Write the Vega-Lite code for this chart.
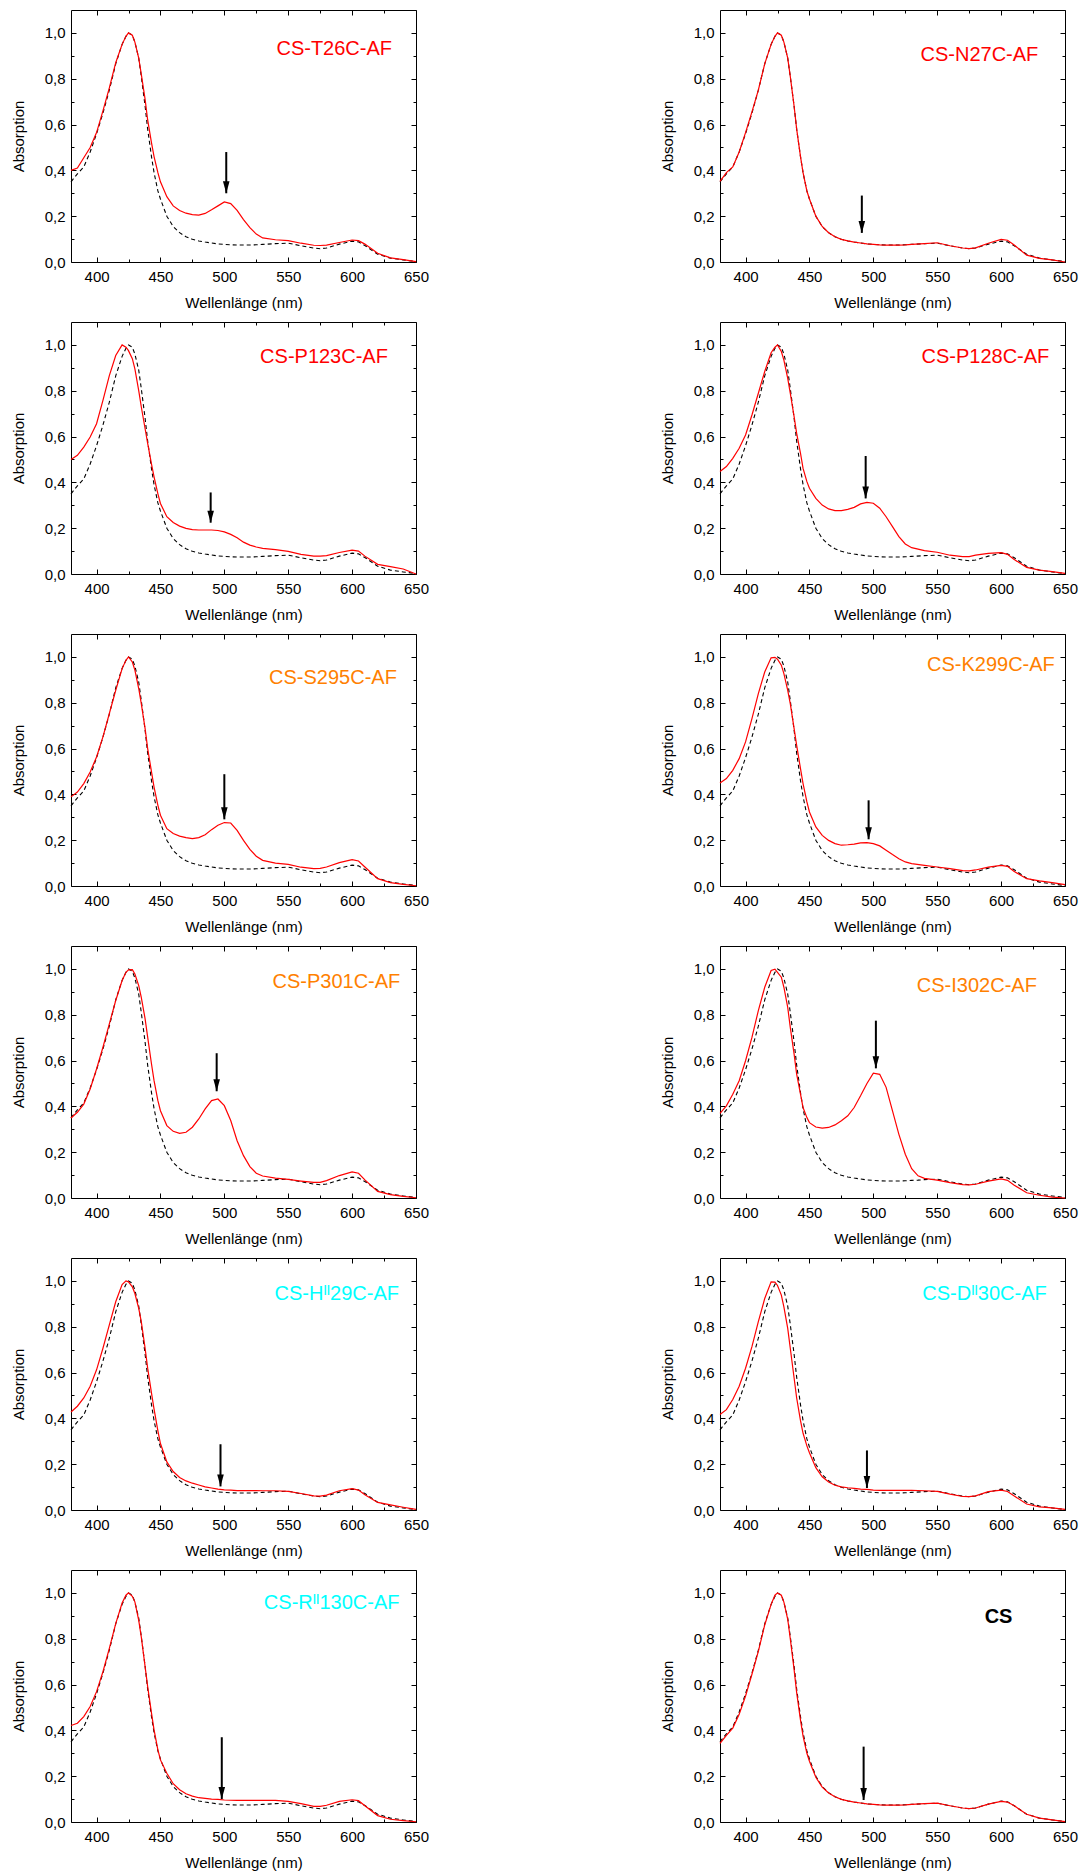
{
"$schema":"https://vega.github.io/schema/vega-lite/v6.json",
"padding":{"left":10,"top":9,"right":0,"bottom":0},
"data":{"values":[
{"p":"T26C","x":380,"r":0.4,"c":0.35},{"p":"T26C","x":385,"r":0.41,"c":0.385},{"p":"T26C","x":390,"r":0.455,"c":0.415},{"p":"T26C","x":395,"r":0.5,"c":0.48},{"p":"T26C","x":400,"r":0.565,"c":0.56},{"p":"T26C","x":405,"r":0.66,"c":0.65},{"p":"T26C","x":410,"r":0.76,"c":0.75},{"p":"T26C","x":415,"r":0.87,"c":0.865},{"p":"T26C","x":420,"r":0.95,"c":0.95},{"p":"T26C","x":423,"r":0.985,"c":0.985},{"p":"T26C","x":425,"r":1,"c":1},{"p":"T26C","x":428,"r":0.99,"c":0.99},{"p":"T26C","x":430,"r":0.96,"c":0.96},{"p":"T26C","x":433,"r":0.89,"c":0.89},{"p":"T26C","x":435,"r":0.82,"c":0.81},{"p":"T26C","x":438,"r":0.71,"c":0.68},{"p":"T26C","x":440,"r":0.62,"c":0.58},{"p":"T26C","x":443,"r":0.52,"c":0.46},{"p":"T26C","x":445,"r":0.46,"c":0.39},{"p":"T26C","x":448,"r":0.39,"c":0.31},{"p":"T26C","x":450,"r":0.35,"c":0.275},{"p":"T26C","x":455,"r":0.285,"c":0.2},{"p":"T26C","x":460,"r":0.245,"c":0.155},{"p":"T26C","x":465,"r":0.225,"c":0.128},{"p":"T26C","x":470,"r":0.213,"c":0.11},{"p":"T26C","x":475,"r":0.207,"c":0.099},{"p":"T26C","x":480,"r":0.205,"c":0.092},{"p":"T26C","x":485,"r":0.212,"c":0.087},{"p":"T26C","x":490,"r":0.228,"c":0.083},{"p":"T26C","x":495,"r":0.245,"c":0.079},{"p":"T26C","x":500,"r":0.262,"c":0.077},{"p":"T26C","x":505,"r":0.255,"c":0.075},{"p":"T26C","x":510,"r":0.225,"c":0.074},{"p":"T26C","x":515,"r":0.185,"c":0.074},{"p":"T26C","x":520,"r":0.15,"c":0.074},{"p":"T26C","x":525,"r":0.122,"c":0.075},{"p":"T26C","x":530,"r":0.105,"c":0.077},{"p":"T26C","x":540,"r":0.097,"c":0.08},{"p":"T26C","x":550,"r":0.093,"c":0.082},{"p":"T26C","x":560,"r":0.082,"c":0.071},{"p":"T26C","x":570,"r":0.073,"c":0.061},{"p":"T26C","x":575,"r":0.072,"c":0.058},{"p":"T26C","x":580,"r":0.074,"c":0.061},{"p":"T26C","x":590,"r":0.085,"c":0.078},{"p":"T26C","x":600,"r":0.096,"c":0.091},{"p":"T26C","x":605,"r":0.093,"c":0.088},{"p":"T26C","x":610,"r":0.078,"c":0.072},{"p":"T26C","x":620,"r":0.038,"c":0.034},{"p":"T26C","x":630,"r":0.018,"c":0.017},{"p":"T26C","x":640,"r":0.01,"c":0.009},{"p":"T26C","x":650,"r":0.002,"c":0.002},
{"p":"N27C","x":380,"r":0.352,"c":0.35},{"p":"N27C","x":385,"r":0.39,"c":0.385},{"p":"N27C","x":390,"r":0.415,"c":0.415},{"p":"N27C","x":395,"r":0.48,"c":0.48},{"p":"N27C","x":400,"r":0.565,"c":0.56},{"p":"N27C","x":405,"r":0.655,"c":0.65},{"p":"N27C","x":410,"r":0.75,"c":0.75},{"p":"N27C","x":415,"r":0.865,"c":0.865},{"p":"N27C","x":420,"r":0.95,"c":0.95},{"p":"N27C","x":423,"r":0.985,"c":0.985},{"p":"N27C","x":425,"r":1,"c":1},{"p":"N27C","x":428,"r":0.99,"c":0.99},{"p":"N27C","x":430,"r":0.96,"c":0.96},{"p":"N27C","x":433,"r":0.89,"c":0.89},{"p":"N27C","x":435,"r":0.81,"c":0.81},{"p":"N27C","x":438,"r":0.68,"c":0.68},{"p":"N27C","x":440,"r":0.58,"c":0.58},{"p":"N27C","x":443,"r":0.46,"c":0.46},{"p":"N27C","x":445,"r":0.39,"c":0.39},{"p":"N27C","x":448,"r":0.31,"c":0.31},{"p":"N27C","x":450,"r":0.275,"c":0.275},{"p":"N27C","x":455,"r":0.2,"c":0.2},{"p":"N27C","x":460,"r":0.155,"c":0.155},{"p":"N27C","x":465,"r":0.128,"c":0.128},{"p":"N27C","x":470,"r":0.11,"c":0.11},{"p":"N27C","x":475,"r":0.099,"c":0.099},{"p":"N27C","x":480,"r":0.092,"c":0.092},{"p":"N27C","x":485,"r":0.087,"c":0.087},{"p":"N27C","x":490,"r":0.083,"c":0.083},{"p":"N27C","x":495,"r":0.079,"c":0.079},{"p":"N27C","x":500,"r":0.077,"c":0.077},{"p":"N27C","x":505,"r":0.075,"c":0.075},{"p":"N27C","x":510,"r":0.074,"c":0.074},{"p":"N27C","x":515,"r":0.074,"c":0.074},{"p":"N27C","x":520,"r":0.074,"c":0.074},{"p":"N27C","x":525,"r":0.075,"c":0.075},{"p":"N27C","x":530,"r":0.077,"c":0.077},{"p":"N27C","x":540,"r":0.08,"c":0.08},{"p":"N27C","x":550,"r":0.084,"c":0.082},{"p":"N27C","x":560,"r":0.071,"c":0.071},{"p":"N27C","x":570,"r":0.061,"c":0.061},{"p":"N27C","x":575,"r":0.058,"c":0.058},{"p":"N27C","x":580,"r":0.062,"c":0.061},{"p":"N27C","x":590,"r":0.082,"c":0.078},{"p":"N27C","x":600,"r":0.099,"c":0.091},{"p":"N27C","x":605,"r":0.095,"c":0.088},{"p":"N27C","x":610,"r":0.075,"c":0.072},{"p":"N27C","x":620,"r":0.03,"c":0.034},{"p":"N27C","x":630,"r":0.016,"c":0.017},{"p":"N27C","x":640,"r":0.009,"c":0.009},{"p":"N27C","x":650,"r":0,"c":0.002},
{"p":"P123C","x":380,"r":0.5,"c":0.35},{"p":"P123C","x":385,"r":0.518,"c":0.385},{"p":"P123C","x":390,"r":0.554,"c":0.415},{"p":"P123C","x":395,"r":0.598,"c":0.48},{"p":"P123C","x":400,"r":0.656,"c":0.56},{"p":"P123C","x":405,"r":0.758,"c":0.65},{"p":"P123C","x":410,"r":0.866,"c":0.75},{"p":"P123C","x":415,"r":0.954,"c":0.865},{"p":"P123C","x":420,"r":1,"c":0.95},{"p":"P123C","x":423,"r":0.99,"c":0.985},{"p":"P123C","x":425,"r":0.975,"c":1},{"p":"P123C","x":428,"r":0.94,"c":0.99},{"p":"P123C","x":430,"r":0.895,"c":0.96},{"p":"P123C","x":433,"r":0.8,"c":0.89},{"p":"P123C","x":435,"r":0.73,"c":0.81},{"p":"P123C","x":438,"r":0.634,"c":0.68},{"p":"P123C","x":440,"r":0.57,"c":0.58},{"p":"P123C","x":443,"r":0.48,"c":0.46},{"p":"P123C","x":445,"r":0.424,"c":0.39},{"p":"P123C","x":448,"r":0.35,"c":0.31},{"p":"P123C","x":450,"r":0.308,"c":0.275},{"p":"P123C","x":455,"r":0.25,"c":0.2},{"p":"P123C","x":460,"r":0.225,"c":0.155},{"p":"P123C","x":465,"r":0.209,"c":0.128},{"p":"P123C","x":470,"r":0.199,"c":0.11},{"p":"P123C","x":475,"r":0.194,"c":0.099},{"p":"P123C","x":480,"r":0.192,"c":0.092},{"p":"P123C","x":485,"r":0.192,"c":0.087},{"p":"P123C","x":490,"r":0.192,"c":0.083},{"p":"P123C","x":495,"r":0.19,"c":0.079},{"p":"P123C","x":500,"r":0.184,"c":0.077},{"p":"P123C","x":505,"r":0.173,"c":0.075},{"p":"P123C","x":510,"r":0.158,"c":0.074},{"p":"P123C","x":515,"r":0.139,"c":0.074},{"p":"P123C","x":520,"r":0.126,"c":0.074},{"p":"P123C","x":525,"r":0.118,"c":0.075},{"p":"P123C","x":530,"r":0.112,"c":0.077},{"p":"P123C","x":540,"r":0.106,"c":0.08},{"p":"P123C","x":550,"r":0.099,"c":0.082},{"p":"P123C","x":560,"r":0.086,"c":0.071},{"p":"P123C","x":570,"r":0.078,"c":0.061},{"p":"P123C","x":575,"r":0.078,"c":0.058},{"p":"P123C","x":580,"r":0.08,"c":0.061},{"p":"P123C","x":590,"r":0.094,"c":0.078},{"p":"P123C","x":600,"r":0.104,"c":0.091},{"p":"P123C","x":605,"r":0.1,"c":0.088},{"p":"P123C","x":610,"r":0.078,"c":0.072},{"p":"P123C","x":620,"r":0.042,"c":0.034},{"p":"P123C","x":630,"r":0.032,"c":0.017},{"p":"P123C","x":640,"r":0.022,"c":0.009},{"p":"P123C","x":650,"r":0,"c":0.002},
{"p":"P128C","x":380,"r":0.447,"c":0.35},{"p":"P128C","x":385,"r":0.469,"c":0.385},{"p":"P128C","x":390,"r":0.505,"c":0.415},{"p":"P128C","x":395,"r":0.549,"c":0.48},{"p":"P128C","x":400,"r":0.607,"c":0.56},{"p":"P128C","x":405,"r":0.694,"c":0.65},{"p":"P128C","x":410,"r":0.789,"c":0.75},{"p":"P128C","x":415,"r":0.884,"c":0.865},{"p":"P128C","x":420,"r":0.966,"c":0.95},{"p":"P128C","x":423,"r":0.99,"c":0.985},{"p":"P128C","x":425,"r":1,"c":1},{"p":"P128C","x":428,"r":0.971,"c":0.99},{"p":"P128C","x":430,"r":0.934,"c":0.96},{"p":"P128C","x":433,"r":0.854,"c":0.89},{"p":"P128C","x":435,"r":0.789,"c":0.81},{"p":"P128C","x":438,"r":0.687,"c":0.68},{"p":"P128C","x":440,"r":0.614,"c":0.58},{"p":"P128C","x":443,"r":0.527,"c":0.46},{"p":"P128C","x":445,"r":0.461,"c":0.39},{"p":"P128C","x":448,"r":0.403,"c":0.31},{"p":"P128C","x":450,"r":0.374,"c":0.275},{"p":"P128C","x":455,"r":0.33,"c":0.2},{"p":"P128C","x":460,"r":0.301,"c":0.155},{"p":"P128C","x":465,"r":0.284,"c":0.128},{"p":"P128C","x":470,"r":0.277,"c":0.11},{"p":"P128C","x":475,"r":0.277,"c":0.099},{"p":"P128C","x":480,"r":0.282,"c":0.092},{"p":"P128C","x":485,"r":0.291,"c":0.087},{"p":"P128C","x":490,"r":0.306,"c":0.083},{"p":"P128C","x":495,"r":0.313,"c":0.079},{"p":"P128C","x":500,"r":0.309,"c":0.077},{"p":"P128C","x":505,"r":0.287,"c":0.075},{"p":"P128C","x":510,"r":0.25,"c":0.074},{"p":"P128C","x":515,"r":0.207,"c":0.074},{"p":"P128C","x":520,"r":0.163,"c":0.074},{"p":"P128C","x":525,"r":0.131,"c":0.075},{"p":"P128C","x":530,"r":0.115,"c":0.077},{"p":"P128C","x":540,"r":0.102,"c":0.08},{"p":"P128C","x":550,"r":0.095,"c":0.082},{"p":"P128C","x":560,"r":0.082,"c":0.071},{"p":"P128C","x":570,"r":0.076,"c":0.061},{"p":"P128C","x":575,"r":0.076,"c":0.058},{"p":"P128C","x":580,"r":0.082,"c":0.061},{"p":"P128C","x":590,"r":0.09,"c":0.078},{"p":"P128C","x":600,"r":0.093,"c":0.091},{"p":"P128C","x":605,"r":0.086,"c":0.088},{"p":"P128C","x":610,"r":0.064,"c":0.072},{"p":"P128C","x":620,"r":0.029,"c":0.034},{"p":"P128C","x":630,"r":0.017,"c":0.017},{"p":"P128C","x":640,"r":0.01,"c":0.009},{"p":"P128C","x":650,"r":0.003,"c":0.002},
{"p":"S295C","x":380,"r":0.389,"c":0.35},{"p":"S295C","x":385,"r":0.41,"c":0.385},{"p":"S295C","x":390,"r":0.447,"c":0.415},{"p":"S295C","x":395,"r":0.498,"c":0.48},{"p":"S295C","x":400,"r":0.563,"c":0.56},{"p":"S295C","x":405,"r":0.651,"c":0.65},{"p":"S295C","x":410,"r":0.753,"c":0.75},{"p":"S295C","x":415,"r":0.854,"c":0.865},{"p":"S295C","x":420,"r":0.949,"c":0.95},{"p":"S295C","x":423,"r":0.985,"c":0.985},{"p":"S295C","x":425,"r":1,"c":1},{"p":"S295C","x":428,"r":0.978,"c":0.99},{"p":"S295C","x":430,"r":0.942,"c":0.96},{"p":"S295C","x":433,"r":0.862,"c":0.89},{"p":"S295C","x":435,"r":0.796,"c":0.81},{"p":"S295C","x":438,"r":0.687,"c":0.68},{"p":"S295C","x":440,"r":0.6,"c":0.58},{"p":"S295C","x":443,"r":0.498,"c":0.46},{"p":"S295C","x":445,"r":0.432,"c":0.39},{"p":"S295C","x":448,"r":0.352,"c":0.31},{"p":"S295C","x":450,"r":0.309,"c":0.275},{"p":"S295C","x":455,"r":0.25,"c":0.2},{"p":"S295C","x":460,"r":0.229,"c":0.155},{"p":"S295C","x":465,"r":0.218,"c":0.128},{"p":"S295C","x":470,"r":0.211,"c":0.11},{"p":"S295C","x":475,"r":0.207,"c":0.099},{"p":"S295C","x":480,"r":0.211,"c":0.092},{"p":"S295C","x":485,"r":0.224,"c":0.087},{"p":"S295C","x":490,"r":0.246,"c":0.083},{"p":"S295C","x":495,"r":0.265,"c":0.079},{"p":"S295C","x":500,"r":0.277,"c":0.077},{"p":"S295C","x":505,"r":0.275,"c":0.075},{"p":"S295C","x":510,"r":0.243,"c":0.074},{"p":"S295C","x":515,"r":0.199,"c":0.074},{"p":"S295C","x":520,"r":0.16,"c":0.074},{"p":"S295C","x":525,"r":0.13,"c":0.075},{"p":"S295C","x":530,"r":0.112,"c":0.077},{"p":"S295C","x":540,"r":0.1,"c":0.08},{"p":"S295C","x":550,"r":0.094,"c":0.082},{"p":"S295C","x":560,"r":0.082,"c":0.071},{"p":"S295C","x":570,"r":0.076,"c":0.061},{"p":"S295C","x":575,"r":0.077,"c":0.058},{"p":"S295C","x":580,"r":0.083,"c":0.061},{"p":"S295C","x":590,"r":0.102,"c":0.078},{"p":"S295C","x":600,"r":0.115,"c":0.091},{"p":"S295C","x":605,"r":0.109,"c":0.088},{"p":"S295C","x":610,"r":0.083,"c":0.072},{"p":"S295C","x":620,"r":0.032,"c":0.034},{"p":"S295C","x":630,"r":0.015,"c":0.017},{"p":"S295C","x":640,"r":0.007,"c":0.009},{"p":"S295C","x":650,"r":0.001,"c":0.002},
{"p":"K299C","x":380,"r":0.45,"c":0.35},{"p":"K299C","x":385,"r":0.469,"c":0.385},{"p":"K299C","x":390,"r":0.505,"c":0.415},{"p":"K299C","x":395,"r":0.556,"c":0.48},{"p":"K299C","x":400,"r":0.629,"c":0.56},{"p":"K299C","x":405,"r":0.731,"c":0.65},{"p":"K299C","x":410,"r":0.84,"c":0.75},{"p":"K299C","x":415,"r":0.934,"c":0.865},{"p":"K299C","x":420,"r":0.996,"c":0.95},{"p":"K299C","x":423,"r":0.998,"c":0.985},{"p":"K299C","x":425,"r":0.99,"c":1},{"p":"K299C","x":428,"r":0.964,"c":0.99},{"p":"K299C","x":430,"r":0.927,"c":0.96},{"p":"K299C","x":433,"r":0.854,"c":0.89},{"p":"K299C","x":435,"r":0.796,"c":0.81},{"p":"K299C","x":438,"r":0.687,"c":0.68},{"p":"K299C","x":440,"r":0.614,"c":0.58},{"p":"K299C","x":443,"r":0.512,"c":0.46},{"p":"K299C","x":445,"r":0.447,"c":0.39},{"p":"K299C","x":448,"r":0.367,"c":0.31},{"p":"K299C","x":450,"r":0.323,"c":0.275},{"p":"K299C","x":455,"r":0.258,"c":0.2},{"p":"K299C","x":460,"r":0.221,"c":0.155},{"p":"K299C","x":465,"r":0.199,"c":0.128},{"p":"K299C","x":470,"r":0.185,"c":0.11},{"p":"K299C","x":475,"r":0.178,"c":0.099},{"p":"K299C","x":480,"r":0.18,"c":0.092},{"p":"K299C","x":485,"r":0.183,"c":0.087},{"p":"K299C","x":490,"r":0.188,"c":0.083},{"p":"K299C","x":495,"r":0.189,"c":0.079},{"p":"K299C","x":500,"r":0.185,"c":0.077},{"p":"K299C","x":505,"r":0.175,"c":0.075},{"p":"K299C","x":510,"r":0.156,"c":0.074},{"p":"K299C","x":515,"r":0.137,"c":0.074},{"p":"K299C","x":520,"r":0.119,"c":0.074},{"p":"K299C","x":525,"r":0.105,"c":0.075},{"p":"K299C","x":530,"r":0.098,"c":0.077},{"p":"K299C","x":540,"r":0.09,"c":0.08},{"p":"K299C","x":550,"r":0.083,"c":0.082},{"p":"K299C","x":560,"r":0.076,"c":0.071},{"p":"K299C","x":570,"r":0.067,"c":0.061},{"p":"K299C","x":575,"r":0.066,"c":0.058},{"p":"K299C","x":580,"r":0.07,"c":0.061},{"p":"K299C","x":590,"r":0.082,"c":0.078},{"p":"K299C","x":600,"r":0.09,"c":0.091},{"p":"K299C","x":605,"r":0.086,"c":0.088},{"p":"K299C","x":610,"r":0.064,"c":0.072},{"p":"K299C","x":620,"r":0.032,"c":0.034},{"p":"K299C","x":630,"r":0.022,"c":0.017},{"p":"K299C","x":640,"r":0.015,"c":0.009},{"p":"K299C","x":650,"r":0.006,"c":0.002},
{"p":"P301C","x":380,"r":0.349,"c":0.35},{"p":"P301C","x":385,"r":0.374,"c":0.385},{"p":"P301C","x":390,"r":0.41,"c":0.415},{"p":"P301C","x":395,"r":0.476,"c":0.48},{"p":"P301C","x":400,"r":0.563,"c":0.56},{"p":"P301C","x":405,"r":0.658,"c":0.65},{"p":"P301C","x":410,"r":0.76,"c":0.75},{"p":"P301C","x":415,"r":0.862,"c":0.865},{"p":"P301C","x":420,"r":0.949,"c":0.95},{"p":"P301C","x":423,"r":0.985,"c":0.985},{"p":"P301C","x":425,"r":0.996,"c":1},{"p":"P301C","x":428,"r":0.997,"c":0.99},{"p":"P301C","x":430,"r":0.978,"c":0.96},{"p":"P301C","x":433,"r":0.927,"c":0.89},{"p":"P301C","x":435,"r":0.876,"c":0.81},{"p":"P301C","x":438,"r":0.782,"c":0.68},{"p":"P301C","x":440,"r":0.702,"c":0.58},{"p":"P301C","x":443,"r":0.585,"c":0.46},{"p":"P301C","x":445,"r":0.512,"c":0.39},{"p":"P301C","x":448,"r":0.425,"c":0.31},{"p":"P301C","x":450,"r":0.381,"c":0.275},{"p":"P301C","x":455,"r":0.316,"c":0.2},{"p":"P301C","x":460,"r":0.291,"c":0.155},{"p":"P301C","x":465,"r":0.282,"c":0.128},{"p":"P301C","x":470,"r":0.287,"c":0.11},{"p":"P301C","x":475,"r":0.309,"c":0.099},{"p":"P301C","x":480,"r":0.345,"c":0.092},{"p":"P301C","x":485,"r":0.389,"c":0.087},{"p":"P301C","x":490,"r":0.425,"c":0.083},{"p":"P301C","x":495,"r":0.432,"c":0.079},{"p":"P301C","x":500,"r":0.403,"c":0.077},{"p":"P301C","x":505,"r":0.338,"c":0.075},{"p":"P301C","x":510,"r":0.25,"c":0.074},{"p":"P301C","x":515,"r":0.185,"c":0.074},{"p":"P301C","x":520,"r":0.137,"c":0.074},{"p":"P301C","x":525,"r":0.108,"c":0.075},{"p":"P301C","x":530,"r":0.096,"c":0.077},{"p":"P301C","x":540,"r":0.087,"c":0.08},{"p":"P301C","x":550,"r":0.081,"c":0.082},{"p":"P301C","x":560,"r":0.074,"c":0.071},{"p":"P301C","x":570,"r":0.068,"c":0.061},{"p":"P301C","x":575,"r":0.068,"c":0.058},{"p":"P301C","x":580,"r":0.076,"c":0.061},{"p":"P301C","x":590,"r":0.098,"c":0.078},{"p":"P301C","x":600,"r":0.114,"c":0.091},{"p":"P301C","x":605,"r":0.108,"c":0.088},{"p":"P301C","x":610,"r":0.079,"c":0.072},{"p":"P301C","x":620,"r":0.029,"c":0.034},{"p":"P301C","x":630,"r":0.015,"c":0.017},{"p":"P301C","x":640,"r":0.007,"c":0.009},{"p":"P301C","x":650,"r":0.001,"c":0.002},
{"p":"I302C","x":380,"r":0.369,"c":0.35},{"p":"I302C","x":385,"r":0.402,"c":0.385},{"p":"I302C","x":390,"r":0.453,"c":0.415},{"p":"I302C","x":395,"r":0.512,"c":0.48},{"p":"I302C","x":400,"r":0.599,"c":0.56},{"p":"I302C","x":405,"r":0.701,"c":0.65},{"p":"I302C","x":410,"r":0.818,"c":0.75},{"p":"I302C","x":415,"r":0.92,"c":0.865},{"p":"I302C","x":420,"r":0.993,"c":0.95},{"p":"I302C","x":423,"r":0.999,"c":0.985},{"p":"I302C","x":425,"r":0.985,"c":1},{"p":"I302C","x":428,"r":0.964,"c":0.99},{"p":"I302C","x":430,"r":0.92,"c":0.96},{"p":"I302C","x":433,"r":0.832,"c":0.89},{"p":"I302C","x":435,"r":0.745,"c":0.81},{"p":"I302C","x":438,"r":0.628,"c":0.68},{"p":"I302C","x":440,"r":0.541,"c":0.58},{"p":"I302C","x":443,"r":0.453,"c":0.46},{"p":"I302C","x":445,"r":0.395,"c":0.39},{"p":"I302C","x":448,"r":0.351,"c":0.31},{"p":"I302C","x":450,"r":0.329,"c":0.275},{"p":"I302C","x":455,"r":0.31,"c":0.2},{"p":"I302C","x":460,"r":0.305,"c":0.155},{"p":"I302C","x":465,"r":0.308,"c":0.128},{"p":"I302C","x":470,"r":0.319,"c":0.11},{"p":"I302C","x":475,"r":0.337,"c":0.099},{"p":"I302C","x":480,"r":0.359,"c":0.092},{"p":"I302C","x":485,"r":0.395,"c":0.087},{"p":"I302C","x":490,"r":0.446,"c":0.083},{"p":"I302C","x":495,"r":0.5,"c":0.079},{"p":"I302C","x":500,"r":0.545,"c":0.077},{"p":"I302C","x":505,"r":0.54,"c":0.075},{"p":"I302C","x":510,"r":0.483,"c":0.074},{"p":"I302C","x":515,"r":0.38,"c":0.074},{"p":"I302C","x":520,"r":0.278,"c":0.074},{"p":"I302C","x":525,"r":0.191,"c":0.075},{"p":"I302C","x":530,"r":0.128,"c":0.077},{"p":"I302C","x":535,"r":0.097,"c":0.078},{"p":"I302C","x":540,"r":0.086,"c":0.08},{"p":"I302C","x":550,"r":0.078,"c":0.082},{"p":"I302C","x":560,"r":0.067,"c":0.071},{"p":"I302C","x":570,"r":0.058,"c":0.061},{"p":"I302C","x":575,"r":0.057,"c":0.058},{"p":"I302C","x":580,"r":0.06,"c":0.061},{"p":"I302C","x":590,"r":0.074,"c":0.078},{"p":"I302C","x":600,"r":0.083,"c":0.091},{"p":"I302C","x":605,"r":0.077,"c":0.088},{"p":"I302C","x":610,"r":0.057,"c":0.072},{"p":"I302C","x":620,"r":0.023,"c":0.034},{"p":"I302C","x":630,"r":0.012,"c":0.017},{"p":"I302C","x":640,"r":0.004,"c":0.009},{"p":"I302C","x":650,"r":0,"c":0.002},
{"p":"H29C","x":380,"r":0.428,"c":0.35},{"p":"H29C","x":385,"r":0.453,"c":0.385},{"p":"H29C","x":390,"r":0.489,"c":0.415},{"p":"H29C","x":395,"r":0.54,"c":0.48},{"p":"H29C","x":400,"r":0.612,"c":0.56},{"p":"H29C","x":405,"r":0.706,"c":0.65},{"p":"H29C","x":410,"r":0.808,"c":0.75},{"p":"H29C","x":415,"r":0.909,"c":0.865},{"p":"H29C","x":420,"r":0.984,"c":0.95},{"p":"H29C","x":423,"r":1,"c":0.985},{"p":"H29C","x":425,"r":0.996,"c":1},{"p":"H29C","x":428,"r":0.974,"c":0.99},{"p":"H29C","x":430,"r":0.945,"c":0.96},{"p":"H29C","x":433,"r":0.88,"c":0.89},{"p":"H29C","x":435,"r":0.822,"c":0.81},{"p":"H29C","x":438,"r":0.706,"c":0.68},{"p":"H29C","x":440,"r":0.619,"c":0.58},{"p":"H29C","x":443,"r":0.51,"c":0.46},{"p":"H29C","x":445,"r":0.44,"c":0.39},{"p":"H29C","x":448,"r":0.345,"c":0.31},{"p":"H29C","x":450,"r":0.29,"c":0.275},{"p":"H29C","x":455,"r":0.21,"c":0.2},{"p":"H29C","x":460,"r":0.168,"c":0.155},{"p":"H29C","x":465,"r":0.142,"c":0.128},{"p":"H29C","x":470,"r":0.127,"c":0.11},{"p":"H29C","x":475,"r":0.117,"c":0.099},{"p":"H29C","x":480,"r":0.109,"c":0.092},{"p":"H29C","x":485,"r":0.101,"c":0.087},{"p":"H29C","x":490,"r":0.096,"c":0.083},{"p":"H29C","x":495,"r":0.091,"c":0.079},{"p":"H29C","x":500,"r":0.088,"c":0.077},{"p":"H29C","x":505,"r":0.087,"c":0.075},{"p":"H29C","x":510,"r":0.085,"c":0.074},{"p":"H29C","x":515,"r":0.085,"c":0.074},{"p":"H29C","x":520,"r":0.085,"c":0.074},{"p":"H29C","x":525,"r":0.085,"c":0.075},{"p":"H29C","x":530,"r":0.084,"c":0.077},{"p":"H29C","x":540,"r":0.084,"c":0.08},{"p":"H29C","x":550,"r":0.081,"c":0.082},{"p":"H29C","x":560,"r":0.072,"c":0.071},{"p":"H29C","x":570,"r":0.062,"c":0.061},{"p":"H29C","x":575,"r":0.061,"c":0.058},{"p":"H29C","x":580,"r":0.065,"c":0.061},{"p":"H29C","x":590,"r":0.084,"c":0.078},{"p":"H29C","x":600,"r":0.093,"c":0.091},{"p":"H29C","x":605,"r":0.087,"c":0.088},{"p":"H29C","x":610,"r":0.067,"c":0.072},{"p":"H29C","x":620,"r":0.033,"c":0.034},{"p":"H29C","x":630,"r":0.022,"c":0.017},{"p":"H29C","x":640,"r":0.012,"c":0.009},{"p":"H29C","x":650,"r":0.003,"c":0.002},
{"p":"D30C","x":380,"r":0.417,"c":0.35},{"p":"D30C","x":385,"r":0.438,"c":0.385},{"p":"D30C","x":390,"r":0.482,"c":0.415},{"p":"D30C","x":395,"r":0.54,"c":0.48},{"p":"D30C","x":400,"r":0.619,"c":0.56},{"p":"D30C","x":405,"r":0.713,"c":0.65},{"p":"D30C","x":410,"r":0.822,"c":0.75},{"p":"D30C","x":415,"r":0.923,"c":0.865},{"p":"D30C","x":420,"r":0.996,"c":0.95},{"p":"D30C","x":423,"r":0.995,"c":0.985},{"p":"D30C","x":425,"r":0.98,"c":1},{"p":"D30C","x":428,"r":0.938,"c":0.99},{"p":"D30C","x":430,"r":0.887,"c":0.96},{"p":"D30C","x":433,"r":0.793,"c":0.89},{"p":"D30C","x":435,"r":0.706,"c":0.81},{"p":"D30C","x":438,"r":0.576,"c":0.68},{"p":"D30C","x":440,"r":0.489,"c":0.58},{"p":"D30C","x":443,"r":0.39,"c":0.46},{"p":"D30C","x":445,"r":0.335,"c":0.39},{"p":"D30C","x":448,"r":0.28,"c":0.31},{"p":"D30C","x":450,"r":0.25,"c":0.275},{"p":"D30C","x":455,"r":0.185,"c":0.2},{"p":"D30C","x":460,"r":0.145,"c":0.155},{"p":"D30C","x":465,"r":0.122,"c":0.128},{"p":"D30C","x":470,"r":0.108,"c":0.11},{"p":"D30C","x":475,"r":0.101,"c":0.099},{"p":"D30C","x":480,"r":0.097,"c":0.092},{"p":"D30C","x":485,"r":0.094,"c":0.087},{"p":"D30C","x":490,"r":0.091,"c":0.083},{"p":"D30C","x":495,"r":0.09,"c":0.079},{"p":"D30C","x":500,"r":0.087,"c":0.077},{"p":"D30C","x":505,"r":0.086,"c":0.075},{"p":"D30C","x":510,"r":0.086,"c":0.074},{"p":"D30C","x":515,"r":0.086,"c":0.074},{"p":"D30C","x":520,"r":0.086,"c":0.074},{"p":"D30C","x":525,"r":0.086,"c":0.075},{"p":"D30C","x":530,"r":0.086,"c":0.077},{"p":"D30C","x":540,"r":0.084,"c":0.08},{"p":"D30C","x":550,"r":0.081,"c":0.082},{"p":"D30C","x":560,"r":0.069,"c":0.071},{"p":"D30C","x":570,"r":0.059,"c":0.061},{"p":"D30C","x":575,"r":0.058,"c":0.058},{"p":"D30C","x":580,"r":0.062,"c":0.061},{"p":"D30C","x":590,"r":0.08,"c":0.078},{"p":"D30C","x":600,"r":0.087,"c":0.091},{"p":"D30C","x":605,"r":0.081,"c":0.088},{"p":"D30C","x":610,"r":0.062,"c":0.072},{"p":"D30C","x":620,"r":0.026,"c":0.034},{"p":"D30C","x":630,"r":0.014,"c":0.017},{"p":"D30C","x":640,"r":0.009,"c":0.009},{"p":"D30C","x":650,"r":0.003,"c":0.002},
{"p":"R130C","x":380,"r":0.421,"c":0.35},{"p":"R130C","x":385,"r":0.431,"c":0.385},{"p":"R130C","x":390,"r":0.46,"c":0.415},{"p":"R130C","x":395,"r":0.504,"c":0.48},{"p":"R130C","x":400,"r":0.569,"c":0.56},{"p":"R130C","x":405,"r":0.656,"c":0.65},{"p":"R130C","x":410,"r":0.758,"c":0.75},{"p":"R130C","x":415,"r":0.866,"c":0.865},{"p":"R130C","x":420,"r":0.956,"c":0.95},{"p":"R130C","x":423,"r":0.99,"c":0.985},{"p":"R130C","x":425,"r":1,"c":1},{"p":"R130C","x":428,"r":0.985,"c":0.99},{"p":"R130C","x":430,"r":0.961,"c":0.96},{"p":"R130C","x":433,"r":0.88,"c":0.89},{"p":"R130C","x":435,"r":0.808,"c":0.81},{"p":"R130C","x":438,"r":0.678,"c":0.68},{"p":"R130C","x":440,"r":0.591,"c":0.58},{"p":"R130C","x":443,"r":0.475,"c":0.46},{"p":"R130C","x":445,"r":0.402,"c":0.39},{"p":"R130C","x":448,"r":0.315,"c":0.31},{"p":"R130C","x":450,"r":0.271,"c":0.275},{"p":"R130C","x":455,"r":0.213,"c":0.2},{"p":"R130C","x":460,"r":0.167,"c":0.155},{"p":"R130C","x":465,"r":0.141,"c":0.128},{"p":"R130C","x":470,"r":0.123,"c":0.11},{"p":"R130C","x":475,"r":0.113,"c":0.099},{"p":"R130C","x":480,"r":0.106,"c":0.092},{"p":"R130C","x":485,"r":0.103,"c":0.087},{"p":"R130C","x":490,"r":0.1,"c":0.083},{"p":"R130C","x":495,"r":0.099,"c":0.079},{"p":"R130C","x":500,"r":0.096,"c":0.077},{"p":"R130C","x":505,"r":0.095,"c":0.075},{"p":"R130C","x":510,"r":0.094,"c":0.074},{"p":"R130C","x":515,"r":0.094,"c":0.074},{"p":"R130C","x":520,"r":0.094,"c":0.074},{"p":"R130C","x":525,"r":0.094,"c":0.075},{"p":"R130C","x":530,"r":0.094,"c":0.077},{"p":"R130C","x":540,"r":0.094,"c":0.08},{"p":"R130C","x":550,"r":0.09,"c":0.082},{"p":"R130C","x":560,"r":0.08,"c":0.071},{"p":"R130C","x":570,"r":0.068,"c":0.061},{"p":"R130C","x":575,"r":0.068,"c":0.058},{"p":"R130C","x":580,"r":0.073,"c":0.061},{"p":"R130C","x":590,"r":0.09,"c":0.078},{"p":"R130C","x":600,"r":0.097,"c":0.091},{"p":"R130C","x":605,"r":0.093,"c":0.088},{"p":"R130C","x":610,"r":0.071,"c":0.072},{"p":"R130C","x":620,"r":0.028,"c":0.034},{"p":"R130C","x":630,"r":0.012,"c":0.017},{"p":"R130C","x":640,"r":0.006,"c":0.009},{"p":"R130C","x":650,"r":0.001,"c":0.002},
{"p":"CS","x":380,"r":0.343,"c":0.35},{"p":"CS","x":385,"r":0.378,"c":0.385},{"p":"CS","x":390,"r":0.41,"c":0.415},{"p":"CS","x":395,"r":0.47,"c":0.48},{"p":"CS","x":400,"r":0.55,"c":0.56},{"p":"CS","x":405,"r":0.645,"c":0.65},{"p":"CS","x":410,"r":0.745,"c":0.75},{"p":"CS","x":415,"r":0.86,"c":0.865},{"p":"CS","x":420,"r":0.95,"c":0.95},{"p":"CS","x":423,"r":0.99,"c":0.985},{"p":"CS","x":425,"r":1,"c":1},{"p":"CS","x":428,"r":0.99,"c":0.99},{"p":"CS","x":430,"r":0.96,"c":0.96},{"p":"CS","x":433,"r":0.885,"c":0.89},{"p":"CS","x":435,"r":0.8,"c":0.81},{"p":"CS","x":438,"r":0.665,"c":0.68},{"p":"CS","x":440,"r":0.565,"c":0.58},{"p":"CS","x":443,"r":0.445,"c":0.46},{"p":"CS","x":445,"r":0.375,"c":0.39},{"p":"CS","x":448,"r":0.3,"c":0.31},{"p":"CS","x":450,"r":0.265,"c":0.275},{"p":"CS","x":455,"r":0.195,"c":0.2},{"p":"CS","x":460,"r":0.152,"c":0.155},{"p":"CS","x":465,"r":0.127,"c":0.128},{"p":"CS","x":470,"r":0.11,"c":0.11},{"p":"CS","x":475,"r":0.099,"c":0.099},{"p":"CS","x":480,"r":0.092,"c":0.092},{"p":"CS","x":485,"r":0.087,"c":0.087},{"p":"CS","x":490,"r":0.083,"c":0.083},{"p":"CS","x":495,"r":0.079,"c":0.079},{"p":"CS","x":500,"r":0.077,"c":0.077},{"p":"CS","x":505,"r":0.075,"c":0.075},{"p":"CS","x":510,"r":0.074,"c":0.074},{"p":"CS","x":515,"r":0.074,"c":0.074},{"p":"CS","x":520,"r":0.074,"c":0.074},{"p":"CS","x":525,"r":0.075,"c":0.075},{"p":"CS","x":530,"r":0.077,"c":0.077},{"p":"CS","x":540,"r":0.08,"c":0.08},{"p":"CS","x":550,"r":0.082,"c":0.082},{"p":"CS","x":560,"r":0.071,"c":0.071},{"p":"CS","x":570,"r":0.061,"c":0.061},{"p":"CS","x":575,"r":0.058,"c":0.058},{"p":"CS","x":580,"r":0.061,"c":0.061},{"p":"CS","x":590,"r":0.078,"c":0.078},{"p":"CS","x":600,"r":0.09,"c":0.091},{"p":"CS","x":605,"r":0.087,"c":0.088},{"p":"CS","x":610,"r":0.072,"c":0.072},{"p":"CS","x":620,"r":0.034,"c":0.034},{"p":"CS","x":630,"r":0.017,"c":0.017},{"p":"CS","x":640,"r":0.009,"c":0.009},{"p":"CS","x":650,"r":0.002,"c":0.002},
{"p":"T26C","t":"CS-T26C-AF","g":"r","tx":586,"ty":0.93,"ax":501.5,"a1":0.48,"a2":0.3},
{"p":"N27C","t":"CS-N27C-AF","g":"r","tx":583,"ty":0.905,"ax":491,"a1":0.29,"a2":0.127},
{"p":"P123C","t":"CS-P123C-AF","g":"r","tx":578,"ty":0.946,"ax":489.3,"a1":0.356,"a2":0.224},
{"p":"P128C","t":"CS-P128C-AF","g":"r","tx":587.7,"ty":0.949,"ax":494,"a1":0.515,"a2":0.33},
{"p":"S295C","t":"CS-S295C-AF","g":"o","tx":585,"ty":0.908,"ax":500,"a1":0.488,"a2":0.291},
{"p":"K299C","t":"CS-K299C-AF","g":"o","tx":592,"ty":0.964,"ax":496.3,"a1":0.374,"a2":0.204},
{"p":"P301C","t":"CS-P301C-AF","g":"o","tx":587.7,"ty":0.942,"ax":494,"a1":0.632,"a2":0.466},
{"p":"I302C","t":"CS-I302C-AF","g":"o","tx":581,"ty":0.927,"ax":502,"a1":0.774,"a2":0.566},
{"p":"H29C","t":"CS-Hᴵᴵ29C-AF","g":"c","tx":588,"ty":0.941,"ax":497,"a1":0.287,"a2":0.103},
{"p":"D30C","t":"CS-Dᴵᴵ30C-AF","g":"c","tx":587,"ty":0.945,"ax":495,"a1":0.26,"a2":0.096},
{"p":"R130C","t":"CS-Rᴵᴵ130C-AF","g":"c","tx":584,"ty":0.954,"ax":498,"a1":0.37,"a2":0.1},
{"p":"CS","t":"CS","g":"k","tx":598,"ty":0.897,"ax":492.4,"a1":0.329,"a2":0.096}
]},
"facet":{"field":"p","type":"nominal","sort":["T26C","N27C","P123C","P128C","S295C","K299C","P301C","I302C","H29C","D30C","R130C","CS"],"title":null,"header":{"title":null,"labels":false,"labelExpr":"''","labelFontSize":0,"labelPadding":0,"titlePadding":0}},
"columns":2,
"spacing":{"row":60,"column":304},
"bounds":"flush",
"resolve":{"axis":{"x":"independent","y":"independent"}},
"spec":{
"width":345,"height":252,
"resolve":{"axis":{"x":"independent","y":"independent"}},
"layer":[
{"transform":[{"filter":"isValid(datum.x)"}],
"mark":{"type":"line","color":"black","strokeDash":[4,3],"strokeWidth":1.1},
"encoding":{
"x":{"field":"x","type":"quantitative","scale":{"domain":[380,650]},"axis":{"orient":"bottom","values":[400,425,450,475,500,525,550,575,600,625,650],"title":"Wellenlänge (nm)","labelExpr":"datum.value % 50 ? '' : datum.label","tickSize":{"condition":{"test":"datum.value % 50 == 0","value":-5},"value":-3},"labelPadding":12,"titlePadding":9,"labelFlush":false,"labelOverlap":false}},
"y":{"field":"c","type":"quantitative","scale":{"domain":[0,1.1]},"axis":{"orient":"left","values":[0,0.1,0.2,0.3,0.4,0.5,0.6,0.7,0.8,0.9,1],"title":"Absorption","labelExpr":"round(datum.value*10) % 2 ? '' : replace(format(datum.value, '.1f'), '.', ',')","tickSize":{"condition":{"test":"round(datum.value*10) % 2 == 0","value":-5},"value":-3},"labelPadding":11,"titlePadding":18,"labelFlush":false,"labelOverlap":false}}}},
{"transform":[{"filter":"isValid(datum.x)"}],
"mark":{"type":"line","color":"#ff0000","strokeWidth":1.2},
"encoding":{
"x":{"field":"x","type":"quantitative","scale":{"domain":[380,650]},"axis":{"orient":"top","values":[400,425,450,475,500,525,550,575,600,625,650],"labels":false,"title":null,"tickSize":{"condition":{"test":"datum.value % 50 == 0","value":-5},"value":-3}}},
"y":{"field":"r","type":"quantitative","scale":{"domain":[0,1.1]},"axis":{"orient":"right","values":[0,0.1,0.2,0.3,0.4,0.5,0.6,0.7,0.8,0.9,1],"labels":false,"title":null,"tickSize":{"condition":{"test":"round(datum.value*10) % 2 == 0","value":-5},"value":-3}}}}},
{"transform":[{"filter":"isValid(datum.t)"}],
"mark":{"type":"rule","color":"black","strokeWidth":2},
"encoding":{"x":{"field":"ax","type":"quantitative","scale":{"domain":[380,650]},"axis":null},"y":{"field":"a1","type":"quantitative","scale":{"domain":[0,1.1]},"axis":null},"y2":{"field":"a2"}}},
{"transform":[{"filter":"isValid(datum.t)"}],
"mark":{"type":"point","shape":"M-0.55,-2L0.55,-2L0,0Z","filled":true,"color":"black","opacity":1,"size":144},
"encoding":{"x":{"field":"ax","type":"quantitative","scale":{"domain":[380,650]},"axis":null},"y":{"field":"a2","type":"quantitative","scale":{"domain":[0,1.1]},"axis":null}}},
{"transform":[{"filter":"isValid(datum.t) && datum.g != 'k'"}],
"mark":{"type":"text","font":"Liberation Sans","fontSize":20,"align":"center","baseline":"middle"},
"encoding":{"x":{"field":"tx","type":"quantitative","scale":{"domain":[380,650]},"axis":null},"y":{"field":"ty","type":"quantitative","scale":{"domain":[0,1.1]},"axis":null},"text":{"field":"t"},"color":{"field":"g","type":"nominal","scale":{"domain":["r","o","c"],"range":["#ff0000","#ff8000","#00ffff"]},"legend":null}}},
{"transform":[{"filter":"datum.g == 'k'"}],
"mark":{"type":"text","font":"Liberation Sans","fontSize":20,"fontWeight":"bold","align":"center","baseline":"middle","color":"black"},
"encoding":{"x":{"field":"tx","type":"quantitative","scale":{"domain":[380,650]},"axis":null},"y":{"field":"ty","type":"quantitative","scale":{"domain":[0,1.1]},"axis":null},"text":{"field":"t"}}}
]},
"config":{"view":{"stroke":"black","strokeWidth":1},"header":{"labels":false,"title":null},"axis":{"domain":false,"grid":false,"tickColor":"black","tickWidth":1,"labelFont":"Liberation Sans","labelFontSize":15,"labelColor":"black","titleFont":"Liberation Sans","titleFontSize":15,"titleFontWeight":"normal","titleColor":"black"}}
}
